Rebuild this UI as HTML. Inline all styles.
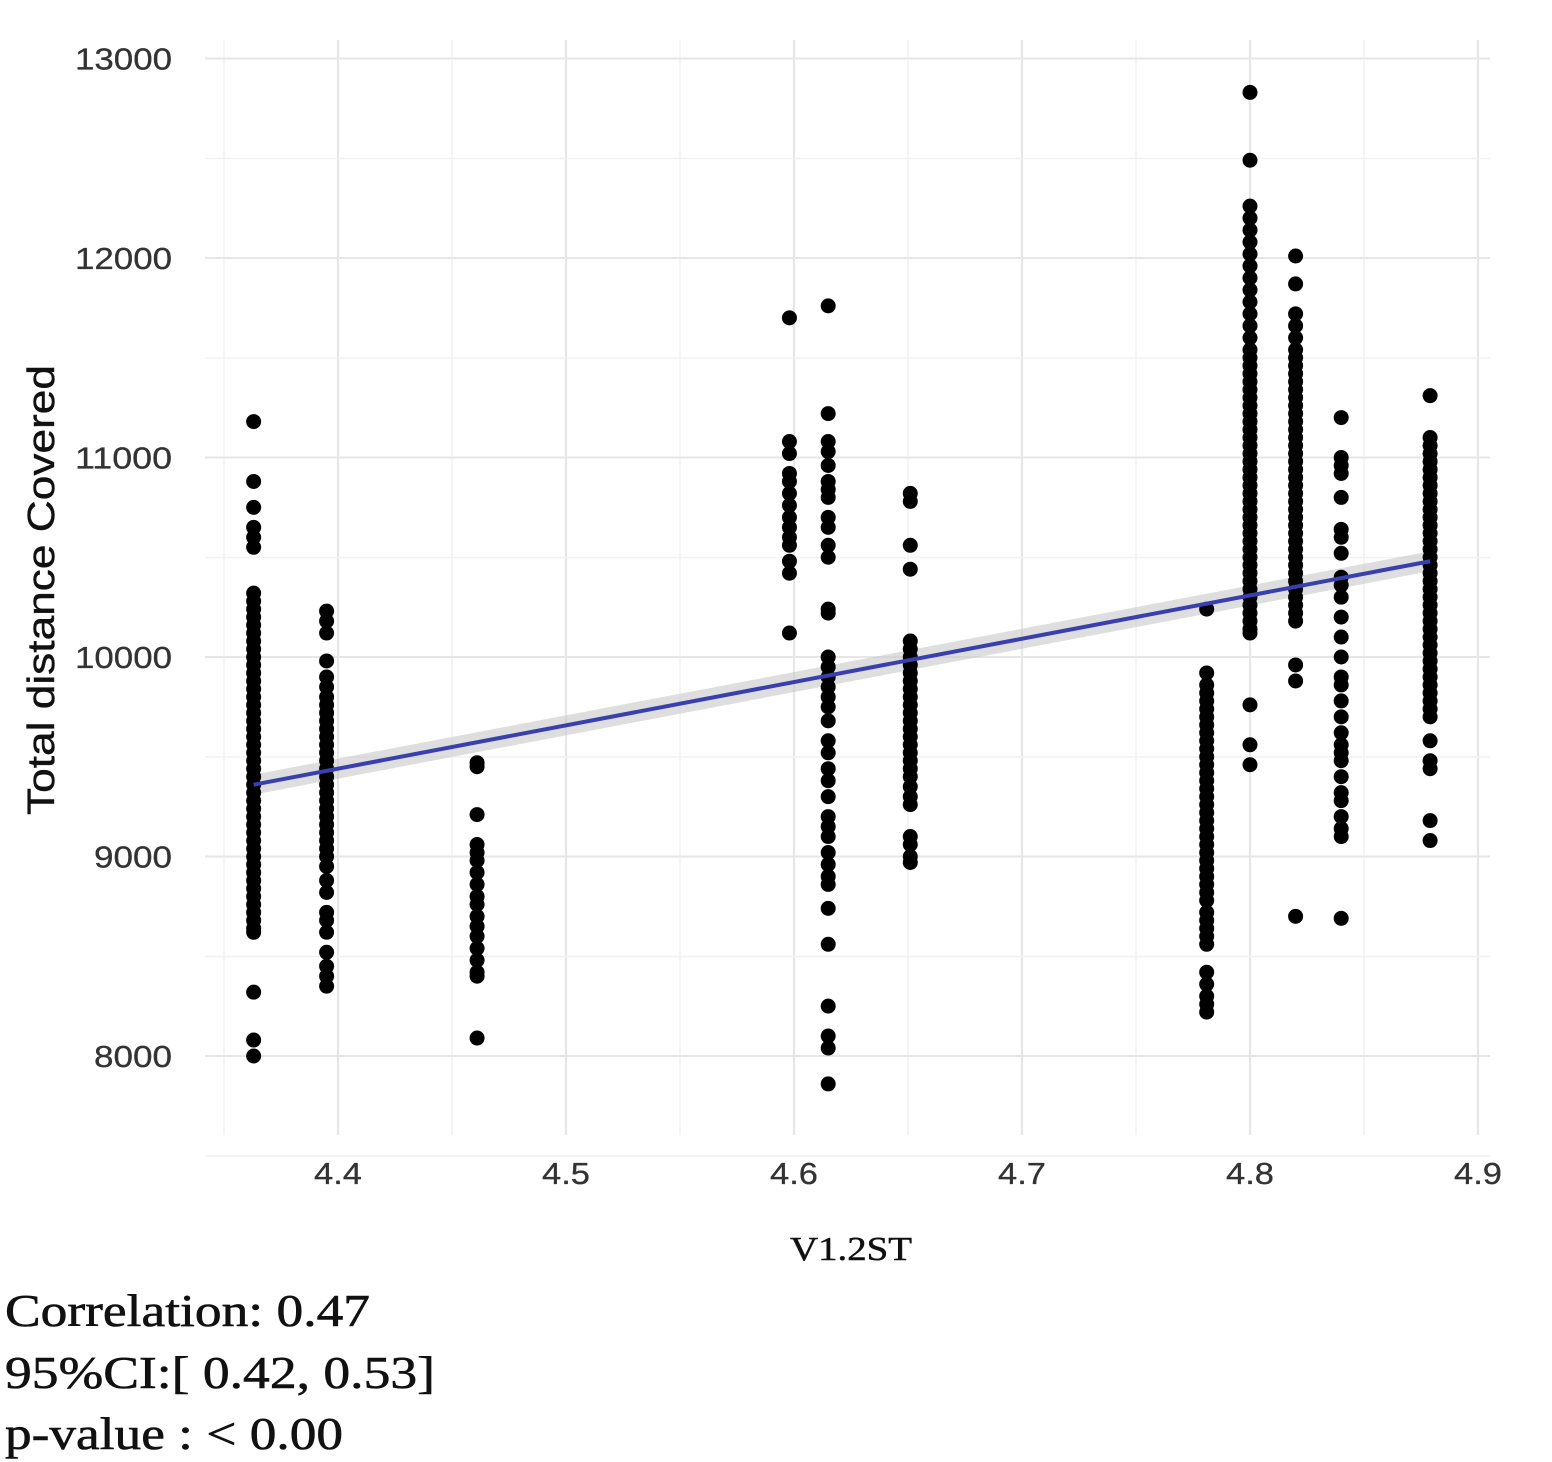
<!DOCTYPE html>
<html><head><meta charset="utf-8"><style>
html,body{margin:0;padding:0;background:#fff;}
svg{display:block;}
</style></head><body>
<svg id="chart" width="1552" height="1462" viewBox="0 0 1552 1462" xmlns="http://www.w3.org/2000/svg">
<g id="grid"></g>
<g id="ribbon"></g>
<g id="points"></g>
<g id="fit"></g>
<g id="axes"></g>
<text x="0" y="0" transform="translate(54,590) rotate(-90)" text-anchor="middle" font-family="Liberation Sans, sans-serif" font-size="38" textLength="450" lengthAdjust="spacingAndGlyphs" fill="#111" stroke="#111" stroke-width="0.4">Total distance Covered</text>
<text x="790" y="1260" font-family="Liberation Serif, serif" font-size="34" textLength="122" lengthAdjust="spacingAndGlyphs" fill="#111" stroke="#111" stroke-width="0.5">V1.2ST</text>
<g font-family="Liberation Serif, serif" font-size="46" fill="#111" stroke="#111" stroke-width="0.6">
<text x="5" y="1326" textLength="365" lengthAdjust="spacingAndGlyphs">Correlation: 0.47</text>
<text x="5" y="1388" textLength="430" lengthAdjust="spacingAndGlyphs">95%CI:[ 0.42, 0.53]</text>
<text x="5" y="1449" textLength="338" lengthAdjust="spacingAndGlyphs">p-value : &lt; 0.00</text>
</g>
</svg>
<script>
const xTicks=[4.4,4.5,4.6,4.7,4.8,4.9];
const yTicks=[8000,9000,10000,11000,12000,13000];
const colX=[4.363,4.395,4.461,4.598,4.615,4.651,4.781,4.800,4.820,4.840,4.879];
const col1=[11180,10880,10750,10650,10600,10550,10320,10280,10240,10200,10160,10120,10080,10040,10000,9960,9920,9880,9840,9800,9760,9720,9680,9640,9600,9560,9520,9480,9440,9400,9360,9320,9280,9240,9200,9160,9120,9080,9040,9000,8960,8920,8880,8840,8800,8760,8720,8680,8640,8620,8320,8080,8000];
const col2=[10230,10180,10120,9980,9900,9850,9800,9760,9720,9680,9640,9600,9560,9520,9480,9440,9400,9360,9320,9280,9240,9200,9160,9120,9080,9040,9000,8950,8880,8820,8720,8680,8620,8520,8450,8400,8350];
const col3=[9470,9450,9210,9060,9020,8980,8920,8860,8800,8760,8700,8650,8600,8540,8480,8420,8400,8090];
const col4=[11700,11080,11020,10920,10880,10820,10760,10700,10650,10600,10560,10480,10420,10120];
const col5=[11760,11220,11080,11030,10960,10880,10840,10800,10700,10650,10560,10500,10240,10220,10000,9950,9900,9850,9800,9750,9680,9580,9520,9440,9380,9300,9200,9150,9100,9020,8960,8900,8860,8740,8560,8250,8100,8040,7860];
const col6=[10820,10780,10560,10440,10080,10040,10000,9960,9920,9880,9840,9800,9760,9720,9680,9640,9600,9560,9520,9480,9440,9400,9350,9300,9260,9100,9060,9000,8970];
const col7=[10240,9920,9860,9820,9780,9740,9700,9660,9620,9580,9540,9500,9460,9420,9380,9340,9300,9260,9220,9180,9140,9100,9060,9020,8980,8940,8900,8860,8820,8780,8720,8680,8640,8600,8560,8420,8360,8300,8260,8220];
const col8=[12830,12490,12260,12200,12140,12080,12020,11960,11900,11840,11780,11720,11660,11600,11540,11500,11460,11420,11380,11340,11300,11260,11220,11180,11140,11100,11060,11020,10980,10940,10900,10860,10820,10780,10740,10700,10660,10620,10580,10540,10500,10460,10420,10380,10340,10300,10260,10220,10180,10140,10120,9760,9560,9460];
const col9=[12010,11870,11720,11660,11600,11540,11500,11460,11420,11380,11340,11300,11260,11220,11180,11140,11100,11060,11020,10980,10940,10900,10860,10820,10780,10740,10700,10660,10620,10580,10540,10500,10460,10420,10380,10340,10300,10260,10220,10180,9960,9880,8700];
const col10=[11200,11000,10960,10920,10800,10640,10600,10520,10400,10360,10300,10200,10100,10000,9900,9860,9780,9700,9620,9560,9520,9480,9400,9320,9280,9200,9140,9100,8690];
const col11=[11310,11100,11060,11020,10980,10940,10900,10860,10820,10780,10740,10700,10660,10620,10580,10540,10500,10460,10420,10380,10340,10300,10260,10220,10180,10140,10100,10060,10020,9980,9940,9900,9860,9820,9780,9740,9700,9580,9480,9440,9180,9080];
const columns=[col1,col2,col3,col4,col5,col6,col7,col8,col9,col10,col11];
const fitX=[4.363,4.879];
const fitY=[9360,10480];
const ns="http://www.w3.org/2000/svg";
function sx(v){return 338+(v-4.4)*2280;}
function sy(v){return 657-(v-10000)*0.1995;}
function mk(tag,attrs,parent){const e=document.createElementNS(ns,tag);for(const k in attrs)e.setAttribute(k,attrs[k]);parent.appendChild(e);return e;}
const grid=document.getElementById('grid'),axes=document.getElementById('axes');
const L=205,R=1490,T=40,B=1135;
for(let i=0;i<xTicks.length;i++){
 const x=sx(xTicks[i]);
 const g=mk('line',{x1:x,x2:x,y1:T,y2:B,stroke:'#e6e6e6','stroke-width':2},grid);
 
 
 const m=mk('line',{x1:x-114,x2:x-114,y1:T,y2:B,stroke:'#f2f2f2','stroke-width':1.5},grid);
 
 
 const t=mk('text',{x:x-24,y:1184,textLength:48,lengthAdjust:'spacingAndGlyphs','font-family':'Liberation Sans, sans-serif','font-size':31,fill:'#333',stroke:'#333','stroke-width':0.3},axes);
 t.textContent=xTicks[i].toFixed(1);
 
 
}
for(let i=0;i<yTicks.length;i++){
 const y=sy(yTicks[i]);
 const g=mk('line',{x1:L,x2:R,y1:y,y2:y,stroke:'#e6e6e6','stroke-width':2},grid);
 
 
 const m=mk('line',{x1:L,x2:R,y1:y+100,y2:y+100,stroke:'#f2f2f2','stroke-width':1.5},grid);
 
 
 const w=String(yTicks[i]).length===5?97:78;
 const t=mk('text',{x:172-w,y:y+11,textLength:w,lengthAdjust:'spacingAndGlyphs','font-family':'Liberation Sans, sans-serif','font-size':31,fill:'#333',stroke:'#333','stroke-width':0.3},axes);
 t.textContent=yTicks[i];
 
 
}
const pts=document.getElementById('points');
for(let c=0;c<columns.length;c++){
 for(const v of columns[c]){
  const p=mk('circle',{cx:sx(colX[c]),cy:sy(v),r:7.5,fill:'#000'},pts);
  
  
 }
}
const rb=mk('polygon',{points:`${sx(fitX[0])},${sy(fitY[0])-10} ${sx(fitX[1])},${sy(fitY[1])-10} ${sx(fitX[1])},${sy(fitY[1])+10} ${sx(fitX[0])},${sy(fitY[0])+10}`,fill:'#c8c8c8','fill-opacity':0.6},document.getElementById('ribbon'));


const ln=mk('line',{x1:sx(fitX[0]),y1:sy(fitY[0]),x2:sx(fitX[1]),y2:sy(fitY[1]),stroke:'#3a3fb0','stroke-width':4},document.getElementById('fit'));


</script>
</body></html>
